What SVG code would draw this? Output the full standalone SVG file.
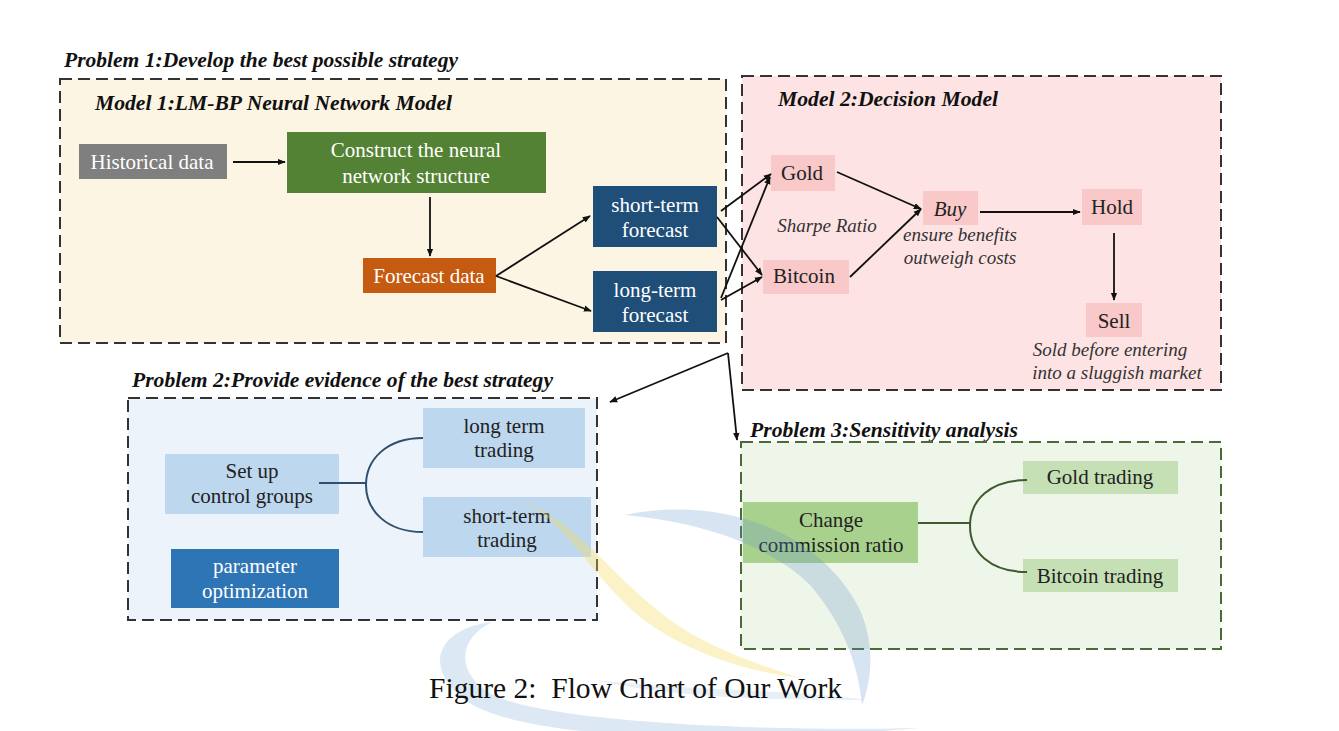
<svg xmlns="http://www.w3.org/2000/svg" width="1339" height="731" viewBox="0 0 1339 731">
<defs>
<marker id="ah" viewBox="0 0 10 10" refX="9" refY="5" markerWidth="8" markerHeight="8" markerUnits="userSpaceOnUse" orient="auto">
<path d="M0,1 L10,5 L0,9 z" fill="#111"/>
</marker>
<style>
.title{font-family:"Liberation Serif",serif;font-weight:bold;font-style:italic;font-size:20px;fill:#111}
.t{font-family:"Liberation Serif",serif;font-size:21px;text-anchor:middle}
.w{fill:#fff}
.d{fill:#222}
.it{font-family:"Liberation Serif",serif;font-style:italic;font-size:19px;fill:#333;text-anchor:middle}
.panel{stroke-width:2;stroke-dasharray:12 6}
.con{fill:none;stroke:#111;stroke-width:1.8;marker-end:url(#ah)}
.pink{fill:#f9c8c8}
.lb{fill:#bdd7ee}
.lg{fill:#c5e0b4}
</style>
</defs>
<rect width="1339" height="731" fill="#fff"/>

<g id="panel1">
<text class="title" x="64" y="67" textLength="394" lengthAdjust="spacingAndGlyphs">Problem 1:Develop the best possible strategy</text>
<rect class="panel" x="60" y="79" width="666" height="264" fill="#fdf5e3" stroke="#333"/>
<text class="title" x="95" y="110" textLength="357" lengthAdjust="spacingAndGlyphs">Model 1:LM-BP Neural Network Model</text>
</g>
<g id="panel2">
<rect class="panel" x="742" y="76" width="479" height="314" fill="#fde3e4" stroke="#333"/>
<text class="title" x="778" y="106" textLength="220" lengthAdjust="spacingAndGlyphs">Model 2:Decision Model</text>
</g>
<g id="panel3">
<text class="title" x="132" y="387" textLength="421" lengthAdjust="spacingAndGlyphs">Problem 2:Provide evidence of the best strategy</text>
<rect class="panel" x="128" y="398" width="469" height="222" fill="#edf3fa" stroke="#333"/>
</g>
<g id="panel4">
<text class="title" x="750" y="437" textLength="268" lengthAdjust="spacingAndGlyphs">Problem 3:Sensitivity analysis</text>
<rect class="panel" x="741" y="442" width="480" height="207" fill="#eef5e9" stroke="#4a6a3a"/>
</g>

<g id="historical"><rect x="79" y="144" width="148" height="35" fill="#7f7f7f"/><text class="t w" x="152" y="169">Historical data</text></g>
<g id="construct"><rect x="287" y="132" width="259" height="61" fill="#548235"/><text class="t w" x="416" y="157">Construct the neural</text><text class="t w" x="416" y="183">network structure</text></g>
<g id="forecast"><rect x="363" y="258" width="133" height="35" fill="#c55a11"/><text class="t w" x="429" y="283">Forecast data</text></g>
<g id="shortterm"><rect x="593" y="186" width="124" height="61" fill="#1f4e79"/><text class="t w" x="655" y="212">short-term</text><text class="t w" x="655" y="237">forecast</text></g>
<g id="longterm"><rect x="593" y="271" width="124" height="61" fill="#1f4e79"/><text class="t w" x="655" y="297">long-term</text><text class="t w" x="655" y="322">forecast</text></g>

<g id="gold"><rect class="pink" x="771" y="155" width="64" height="36"/><text class="t d" x="802" y="180">Gold</text></g>
<g id="bitcoin"><rect class="pink" x="763" y="260" width="86" height="34"/><text class="t d" x="804" y="283">Bitcoin</text></g>
<g id="buy"><rect class="pink" x="923" y="191" width="55" height="34"/><text class="t d" x="950" y="216" font-style="italic">Buy</text></g>
<g id="hold"><rect class="pink" x="1082" y="189" width="60" height="36"/><text class="t d" x="1112" y="214">Hold</text></g>
<g id="sell"><rect class="pink" x="1086" y="303" width="56" height="34"/><text class="t d" x="1114" y="328">Sell</text></g>
<g id="notes">
<text class="it" x="827" y="232">Sharpe Ratio</text>
<text class="it" x="960" y="241">ensure benefits</text>
<text class="it" x="960" y="264">outweigh costs</text>
<text class="it" x="1110" y="356">Sold before entering</text>
<text class="it" x="1117" y="379">into a sluggish market</text>
</g>

<g id="setup"><rect class="lb" x="165" y="454" width="174" height="60"/><text class="t d" x="252" y="478">Set up</text><text class="t d" x="252" y="503">control groups</text></g>
<g id="longtrading"><rect class="lb" x="423" y="408" width="162" height="60"/><text class="t d" x="504" y="433">long term</text><text class="t d" x="504" y="457">trading</text></g>
<g id="shorttrading"><rect class="lb" x="423" y="497" width="168" height="60"/><text class="t d" x="507" y="523">short-term</text><text class="t d" x="507" y="547">trading</text></g>
<g id="paramopt"><rect x="171" y="549" width="168" height="59" fill="#2e75b6"/><text class="t w" x="255" y="573">parameter</text><text class="t w" x="255" y="598">optimization</text></g>

<g id="change"><rect x="743" y="502" width="175" height="61" fill="#a9d18e"/><text class="t d" x="831" y="527">Change</text><text class="t d" x="831" y="552">commission ratio</text></g>
<g id="goldtrading"><rect class="lg" x="1023" y="461" width="155" height="33"/><text class="t d" x="1100" y="484">Gold trading</text></g>
<g id="bitcointrading"><rect class="lg" x="1023" y="559" width="155" height="33"/><text class="t d" x="1100" y="583">Bitcoin trading</text></g>

<g id="connectors">
<line class="con" x1="233" y1="162" x2="285" y2="162"/>
<line class="con" x1="430" y1="197" x2="430" y2="256"/>
<line class="con" x1="496" y1="276" x2="590" y2="216"/>
<line class="con" x1="496" y1="276" x2="591" y2="311"/>
<line class="con" x1="721" y1="211" x2="771" y2="174"/>
<line class="con" x1="717" y1="217" x2="762" y2="275"/>
<line class="con" x1="721" y1="298" x2="770" y2="177"/>
<line class="con" x1="721" y1="300" x2="762" y2="277"/>
<line class="con" x1="837" y1="172" x2="921" y2="209"/>
<line class="con" x1="850" y1="277" x2="921" y2="209"/>
<line class="con" x1="980" y1="212" x2="1080" y2="212"/>
<line class="con" x1="1114" y1="233" x2="1114" y2="300"/>
<line class="con" x1="728" y1="353" x2="610" y2="402"/>
<line class="con" x1="728" y1="353" x2="737" y2="440"/>
<path d="M319,483 L366,483 M423,438 C386,438 366,460 366,485 C366,510 386,532 423,532" fill="none" stroke="#2f4f6f" stroke-width="2"/>
<path d="M918,523 L970,523 M1027,480 C990,480 970,500 970,526 C970,552 990,572 1027,572" fill="none" stroke="#3e5a30" stroke-width="2"/>
</g>

<g id="watermark" stroke="none">
<path d="M625,515 C720,495 820,530 860,610 C875,645 872,680 862,705 C858,660 840,620 810,585 C770,545 700,522 625,515 Z" fill="#5f95c8" opacity="0.25"/>
<path d="M492,622 C440,628 420,665 465,700 C520,740 720,745 920,728 C760,732 560,722 500,698 C455,678 455,640 492,622 Z" fill="#5f95c8" opacity="0.22"/>
<path d="M595,680 C680,700 800,700 866,700 C800,690 680,690 595,680 Z" fill="#5f95c8" opacity="0.15"/>
<path d="M520,500 C565,520 590,575 640,617 C690,655 750,672 800,678 C750,662 695,643 655,608 C605,568 575,520 520,500 Z" fill="#f3dc5e" opacity="0.35"/>
</g>

<text x="429" y="698" font-family="Liberation Serif, serif" font-size="29" fill="#111" textLength="413" lengthAdjust="spacingAndGlyphs" xml:space="preserve">Figure 2:  Flow Chart of Our Work</text>
</svg>
